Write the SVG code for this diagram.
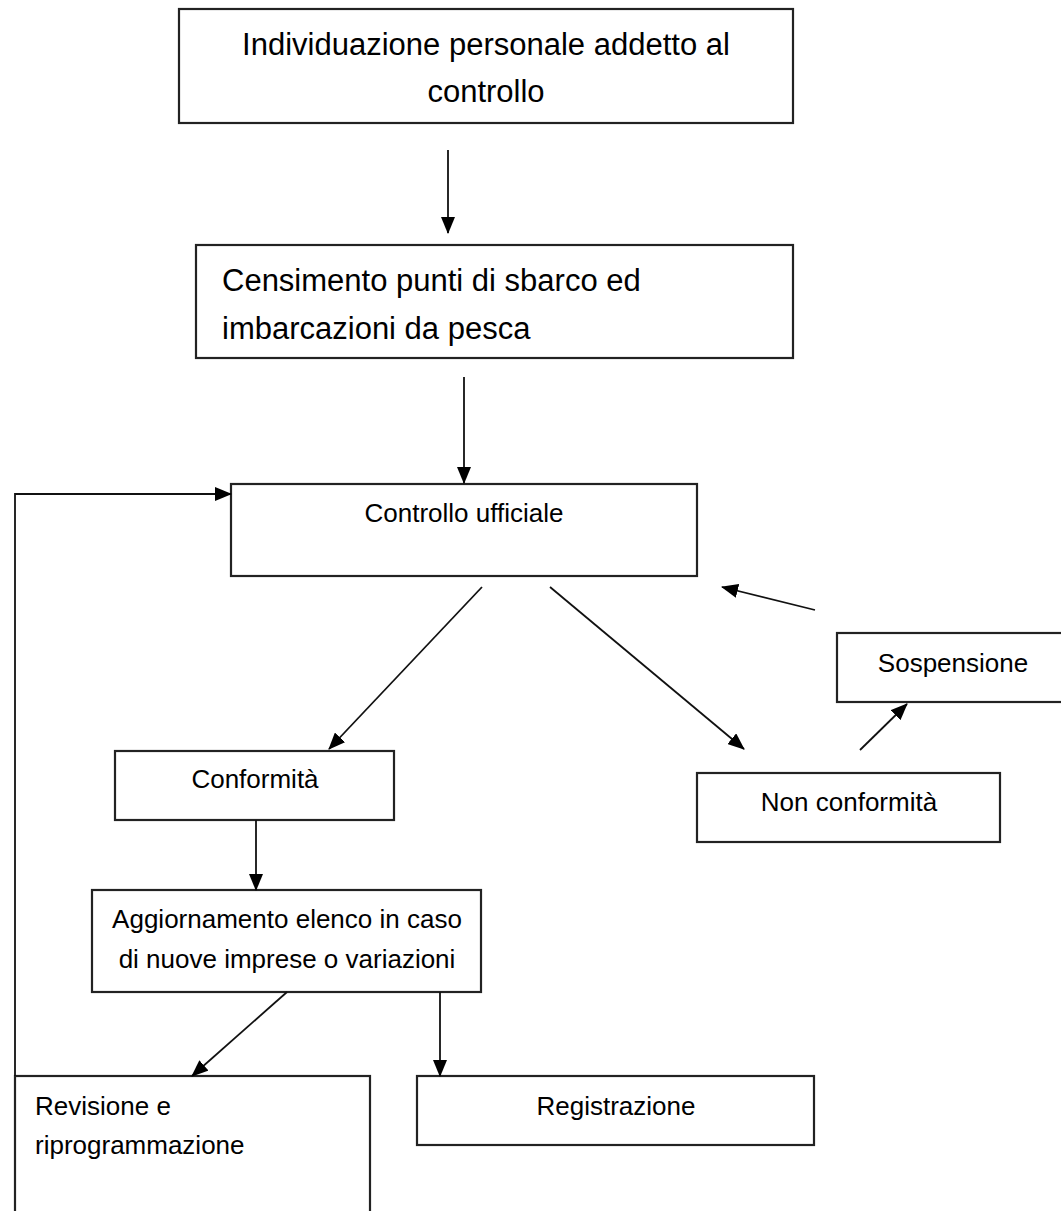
<svg xmlns="http://www.w3.org/2000/svg" width="1061" height="1211" viewBox="0 0 1061 1211">
<style>
.box{fill:#fff;stroke:#222;stroke-width:2.2}
.t{font-family:"Liberation Sans",Arial,sans-serif;font-size:26px;fill:#000}
.big{font-size:31px}
.c{text-anchor:middle}
.ln{fill:none;stroke:#111;stroke-width:1.8}
</style>
<defs>
<marker id="ah" markerUnits="userSpaceOnUse" markerWidth="17" markerHeight="14" viewBox="0 0 17 14" refX="16" refY="7" orient="auto">
<path d="M0,0 L17,7 L0,14 Z" fill="#000"/>
</marker>
</defs>
<rect width="1061" height="1211" fill="#fff"/>
<g id="n1">
<rect class="box" x="179" y="9" width="614" height="114"/>
<text class="t big c" x="486" y="55">Individuazione personale addetto al</text>
<text class="t big c" x="486" y="102">controllo</text>
</g>
<g id="n2">
<rect class="box" x="196" y="245" width="597" height="113"/>
<text class="t big" x="222" y="291">Censimento punti di sbarco ed</text>
<text class="t big" x="222" y="339">imbarcazioni da pesca</text>
</g>
<g id="n3">
<rect class="box" x="231" y="484" width="466" height="92"/>
<text class="t c" x="464" y="522">Controllo ufficiale</text>
</g>
<g id="n4">
<rect class="box" x="837" y="633" width="230" height="69"/>
<text class="t c" x="953" y="672">Sospensione</text>
</g>
<g id="n5">
<rect class="box" x="115" y="751" width="279" height="69"/>
<text class="t c" x="255" y="788">Conformità</text>
</g>
<g id="n6">
<rect class="box" x="697" y="773" width="303" height="69"/>
<text class="t c" x="849" y="811">Non conformità</text>
</g>
<g id="n7">
<rect class="box" x="92" y="890" width="389" height="102"/>
<text class="t c" x="287" y="928">Aggiornamento elenco in caso</text>
<text class="t c" x="287" y="968">di nuove imprese o variazioni</text>
</g>
<g id="n8">
<rect class="box" x="15" y="1076" width="355" height="145"/>
<text class="t" x="35" y="1115">Revisione e</text>
<text class="t" x="35" y="1154">riprogrammazione</text>
</g>
<g id="n9">
<rect class="box" x="417" y="1076" width="397" height="69"/>
<text class="t c" x="616" y="1115">Registrazione</text>
</g>
<g id="connectors">
<line class="ln" x1="448" y1="150" x2="448" y2="233" marker-end="url(#ah)"/>
<line class="ln" x1="464" y1="377" x2="464" y2="483" marker-end="url(#ah)"/>
<path class="ln" d="M15,1076 V494 H231" marker-end="url(#ah)"/>
<line class="ln" x1="482" y1="587" x2="329" y2="749" marker-end="url(#ah)"/>
<line class="ln" x1="550" y1="587" x2="744" y2="749" marker-end="url(#ah)"/>
<line class="ln" x1="860" y1="750" x2="907" y2="704" marker-end="url(#ah)"/>
<line class="ln" x1="815" y1="610" x2="722" y2="587" marker-end="url(#ah)"/>
<line class="ln" x1="256" y1="820" x2="256" y2="890" marker-end="url(#ah)"/>
<line class="ln" x1="287" y1="992" x2="192" y2="1076" marker-end="url(#ah)"/>
<line class="ln" x1="440" y1="992" x2="440" y2="1076" marker-end="url(#ah)"/>
</g>
</svg>
